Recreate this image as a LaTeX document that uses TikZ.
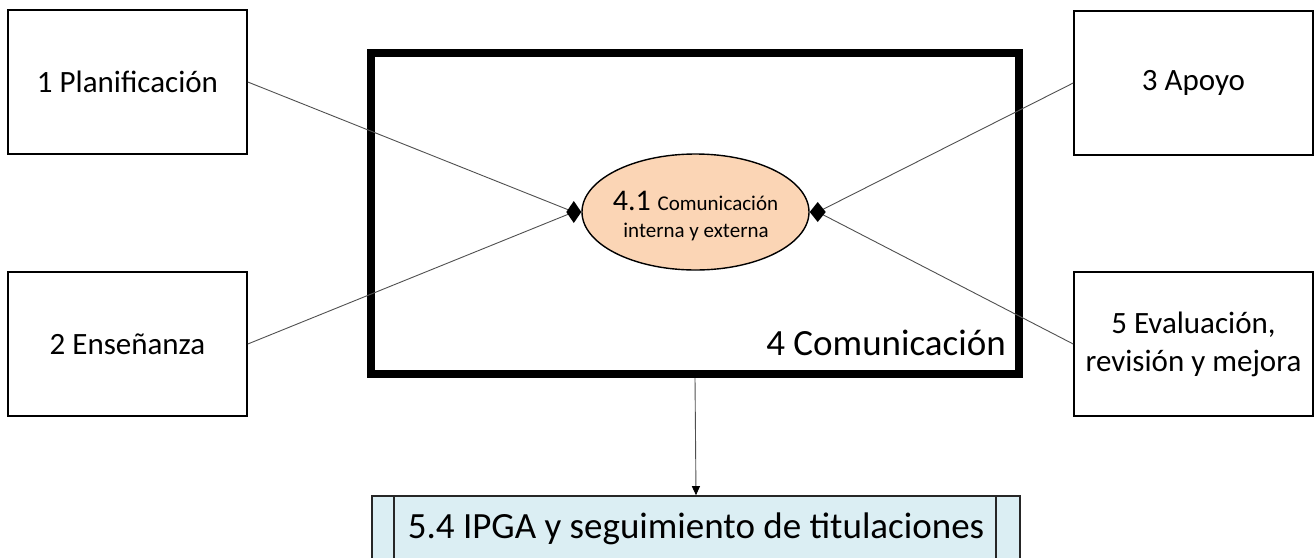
\documentclass[tikz,border=0pt]{standalone}
\usepackage{fontspec}
\setmainfont{Carlito}
\usetikzlibrary{shapes.geometric,arrows.meta}
\definecolor{peach}{RGB}{251,213,181}
\definecolor{paleblue}{RGB}{219,238,243}
\definecolor{linkgray}{RGB}{80,80,80}
\tikzset{
  procbox/.style={draw=black, line width=1.6pt, minimum width=239pt, minimum height=144pt, inner sep=0pt, align=center, font=\fontsize{31}{38}\selectfont},
  link/.style={draw=linkgray, line width=0.9pt},
  tipdiamond/.style={fill=black},
}
\begin{document}
\begin{tikzpicture}[x=1pt,y=-1pt]
\fill[white] (0,0) rectangle (1316,557);
\useasboundingbox (0,0) rectangle (1316,557);

\node[procbox] (p1) at (127.5,82) {1 Planificación};
\node[procbox] (p2) at (127.5,344) {2 Enseñanza};
\node[procbox] (p3) at (1193.5,83) {3 Apoyo};
\node[procbox] (p5) at (1193.5,344) {5 Evaluación,\\revisión y mejora};

\node[draw=black, line width=8pt, minimum width=648pt, minimum height=321pt, inner sep=0pt] (m) at (695,213.5) {};
\node[anchor=base east, inner sep=0pt, font=\fontsize{37}{44}\selectfont] (mlabel) at (1006,355) {4 Comunicación};

\node[ellipse, draw=black, line width=1.4pt, fill=peach, minimum width=227pt, minimum height=116pt, inner sep=0pt] (e) at (695.5,212) {};
\node[anchor=base, inner sep=0pt] (etext1) at (695.5,210) {\fontsize{30}{30}\selectfont 4.1 \fontsize{21}{27}\selectfont Comunicación};
\node[anchor=base, inner sep=0pt, font=\fontsize{21}{27}\selectfont] (etext2) at (696,237) {interna y externa};

\coordinate (dl) at ([xshift=-7.5pt]e.west);
\coordinate (dr) at ([xshift=8pt]e.east);

\draw[link] (p1.east) -- (dl);
\draw[link] (p2.east) -- (dl);
\draw[link] (p3.west) -- (dr);
\draw[link] (p5.west) -- (dr);

\fill[tipdiamond] (e.west) -- ++(-7.5,-11) -- ++(-7.5,11) -- ++(7.5,11) -- cycle;
\fill[tipdiamond] (e.east) -- ++(8,-10) -- ++(8,10) -- ++(-8,10) -- cycle;

\node[draw=black!85, line width=1.6pt, fill=paleblue, minimum width=648pt, minimum height=84pt, inner sep=0pt] (b) at (696,538) {};
\draw[black!85, line width=1.6pt] ([xshift=23pt]b.north west) -- ([xshift=23pt]b.south west);
\draw[black!85, line width=1.6pt] ([xshift=-25pt]b.north east) -- ([xshift=-25pt]b.south east);
\node[anchor=base, inner sep=0pt, font=\fontsize{37}{44}\selectfont] (btext) at (696,538) {5.4 IPGA y seguimiento de titulaciones};

\draw[linkgray, line width=0.9pt, -{Triangle[length=9pt,width=8pt,color=black]}] (m.south) -- (b.north);
\end{tikzpicture}
\end{document}
